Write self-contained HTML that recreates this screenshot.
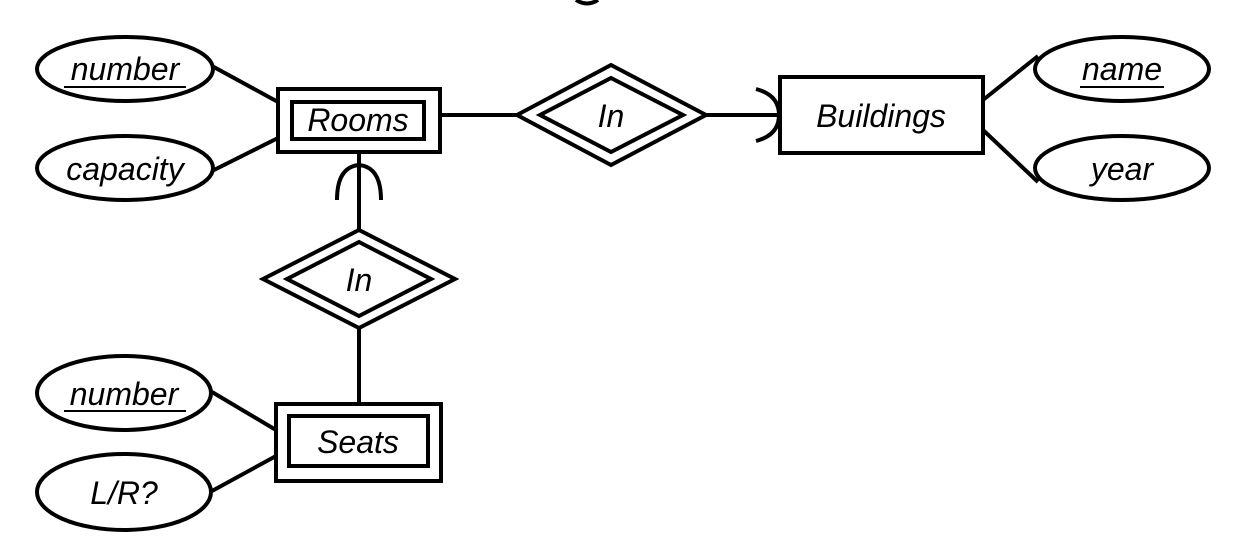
<!DOCTYPE html>
<html><head><style>html,body{margin:0;padding:0;background:#fff;}svg{display:block}</style></head>
<body>
<svg width="1234" height="550" viewBox="0 0 1234 550" xmlns="http://www.w3.org/2000/svg" font-family="Liberation Sans, sans-serif" font-style="italic" font-size="32" text-anchor="middle">
<g fill="none" stroke="#000" stroke-width="4">
<path d="M576,0 Q587,7 598,0"/>
<ellipse cx="125" cy="69" rx="88" ry="32"/>
<ellipse cx="125" cy="168" rx="88" ry="32"/>
<ellipse cx="1122" cy="69" rx="87" ry="32"/>
<ellipse cx="1122" cy="168" rx="87" ry="32"/>
<ellipse cx="124" cy="393" rx="87" ry="37"/>
<ellipse cx="124" cy="492" rx="87" ry="38"/>
<rect x="278" y="89" width="162" height="63"/>
<rect x="292" y="102" width="132" height="37"/>
<rect x="780" y="77" width="203" height="76"/>
<rect x="276" y="404" width="165" height="77"/>
<rect x="289" y="416" width="139" height="50"/>
<polygon points="517,115 611,65 706,115 611,165"/>
<polygon points="540,115 611,78 683,115 611,152"/>
<polygon points="263,279 359,230 455,279 359,328"/>
<polygon points="287,279 359,242 431,279 359,316"/>
<line x1="212" y1="66" x2="278" y2="102"/>
<line x1="212" y1="171" x2="278" y2="138"/>
<line x1="440" y1="115" x2="517" y2="115"/>
<line x1="706" y1="115" x2="780" y2="115"/>
<path d="M756,89 Q779,95 779,115 Q779,135 756,141"/>
<line x1="983" y1="100" x2="1038" y2="56"/>
<line x1="983" y1="130" x2="1038" y2="182"/>
<line x1="359" y1="152" x2="359" y2="230"/>
<path d="M337,200 Q337,167 359,165 Q381,167 381,200"/>
<line x1="359" y1="328" x2="359" y2="404"/>
<line x1="212" y1="392" x2="276" y2="430"/>
<line x1="212" y1="491" x2="276" y2="456"/>
</g>
<g fill="#000">
<text x="125" y="80">number</text>
<line x1="64" y1="87" x2="186" y2="87" stroke="#000" stroke-width="2"/>
<text x="125" y="180">capacity</text>
<text x="1122" y="80">name</text>
<line x1="1080" y1="87" x2="1164" y2="87" stroke="#000" stroke-width="2"/>
<text x="1122" y="180">year</text>
<text x="124" y="405">number</text>
<line x1="64" y1="411" x2="186" y2="411" stroke="#000" stroke-width="2"/>
<text x="124" y="504">L/R?</text>
<text x="358" y="131">Rooms</text>
<text x="881" y="127">Buildings</text>
<text x="358" y="453">Seats</text>
<text x="611" y="127">In</text>
<text x="359" y="291">In</text>
</g>
</svg>
</body></html>
